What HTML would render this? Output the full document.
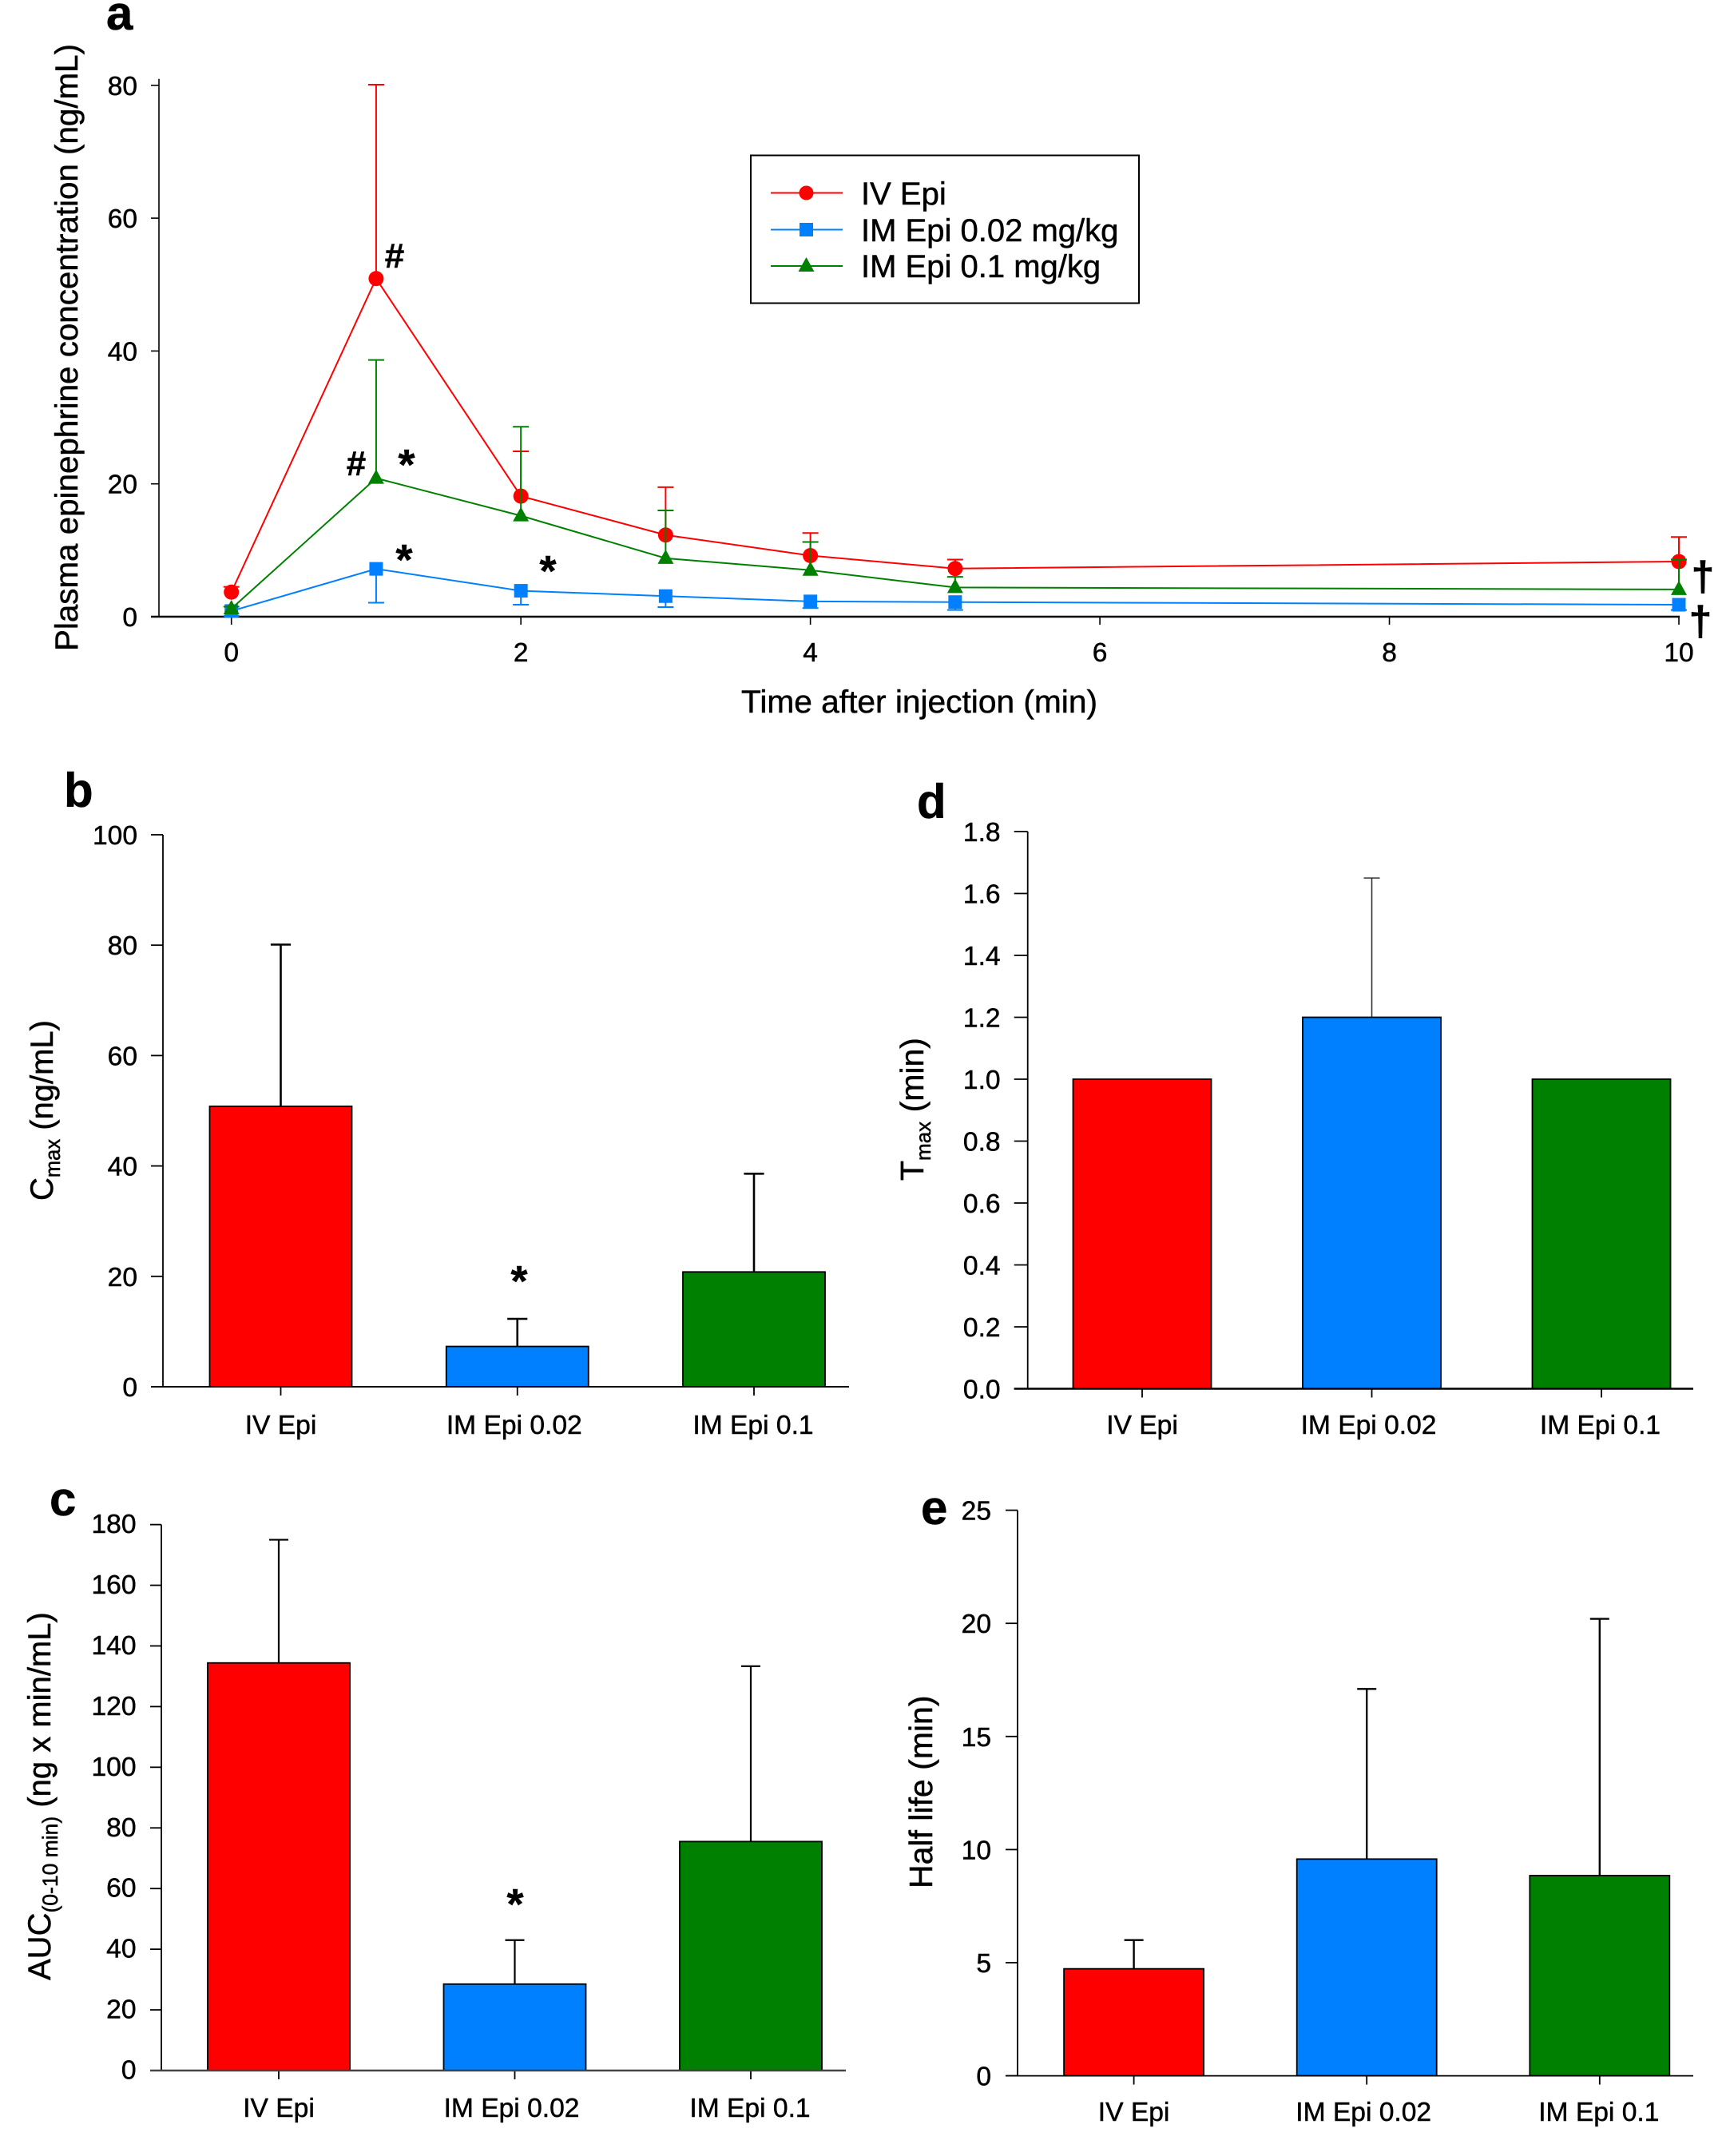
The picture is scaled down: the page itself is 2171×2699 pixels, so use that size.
<!DOCTYPE html>
<html lang="en">
<head>
<meta charset="utf-8">
<title>Plasma epinephrine pharmacokinetics</title>
<style>
  html,body{margin:0;padding:0;background:#fff;}
  svg{display:block;}
  text{font-family:"Liberation Sans",Arial,sans-serif;fill:#000;stroke:#000;stroke-width:0.5px;}
  .letter{font-weight:700;font-size:60px;}
  .note{font-weight:700;}
</style>
</head>
<body>
<svg id="figure" xmlns="http://www.w3.org/2000/svg" width="2171" height="2699" viewBox="0 0 2171 2699">
  <rect x="0" y="0" width="2171" height="2699" fill="#fff"/>

  <g id="panel-a"></g>
  <g id="panel-b"></g>
  <g id="panel-c"></g>
  <g id="panel-d"></g>
  <g id="panel-e"></g>

  <text class="letter" x="133" y="37">a</text>
  <text class="letter" x="80" y="1010">b</text>
  <text class="letter" x="1148" y="1024">d</text>
  <text class="letter" x="62" y="1897">c</text>
  <text class="letter" x="1153" y="1908">e</text>

  <text transform="translate(97,815) rotate(-90)" font-size="39.5" textLength="760" lengthAdjust="spacingAndGlyphs">Plasma epinephrine concentration (ng/mL)</text>
  <text x="928" y="892" font-size="39.5" textLength="446" lengthAdjust="spacingAndGlyphs">Time after injection (min)</text>

  <g>
    <rect x="940" y="194.5" width="486" height="185" fill="#fff" stroke="#000" stroke-width="2"/>
    <line x1="965" y1="241.5" x2="1055" y2="241.5" stroke="#ff0000" stroke-width="2"/>
    <circle cx="1009.5" cy="241.5" r="9" fill="#ff0000"/>
    <text x="1078" y="256" font-size="40">IV Epi</text>
    <line x1="965" y1="287.5" x2="1055" y2="287.5" stroke="#0080ff" stroke-width="2"/>
    <rect x="1001" y="279" width="17" height="17" fill="#0080ff"/>
    <text x="1078" y="302" font-size="40">IM Epi 0.02 mg/kg</text>
    <line x1="965" y1="333" x2="1055" y2="333" stroke="#008000" stroke-width="2"/>
    <polygon points="1009.5,322 1019.5,340 999.5,340" fill="#008000"/>
    <text x="1078" y="347" font-size="40">IM Epi 0.1 mg/kg</text>
  </g>

  <text class="note" x="494" y="335" font-size="44" text-anchor="middle">#</text>
  <text class="note" x="446" y="595" font-size="44" text-anchor="middle">#</text>
  <text class="note" x="509" y="600" font-size="54" text-anchor="middle">*</text>
  <text class="note" x="506" y="719" font-size="54" text-anchor="middle">*</text>
  <text class="note" x="686" y="733" font-size="54" text-anchor="middle">*</text>
  <text class="note" x="2132" y="739" font-size="52" text-anchor="middle">†</text>
  <text class="note" x="2129" y="795" font-size="52" text-anchor="middle">†</text>

  <text transform="translate(66,1503) rotate(-90)" font-size="40">C<tspan font-size="25.5" dy="9">max</tspan><tspan dy="-9"> (ng/mL)</tspan></text>
  <text class="note" x="650" y="1622" font-size="54" text-anchor="middle">*</text>

  <text transform="translate(63,2479) rotate(-90)" font-size="40">AUC<tspan font-size="26.5" dy="9">(0-10 min)</tspan><tspan dy="-9"> (ng x min/mL)</tspan></text>
  <text class="note" x="645" y="2402" font-size="54" text-anchor="middle">*</text>

  <text transform="translate(1156,1478) rotate(-90)" font-size="41">T<tspan font-size="26" dy="9">max</tspan><tspan dy="-9"> (min)</tspan></text>

  <text transform="translate(1167,2364) rotate(-90)" font-size="41">Half life (min)</text>
</svg>

<script>
// ---- Panel a: concentration time course ----
const timePoints = [0, 1, 2, 3, 4, 5, 10];
const ivMean = [3.7, 50.9, 18.15, 12.3, 9.2, 7.25, 8.3];
const ivErrorEnd = [4.5, 80.1, 24.9, 19.5, 12.6, 8.6, 12.0];
const im002Mean = [0.85, 7.2, 3.9, 3.1, 2.3, 2.2, 1.8];
const im002ErrorEnd = [0.1, 2.1, 1.8, 1.45, 1.3, 1.0, 1.0];
const im01Mean = [1.2, 20.85, 15.2, 8.8, 7.0, 4.4, 4.1];
const im01ErrorEnd = [1.5, 38.65, 28.6, 16.0, 11.25, 6.0, 8.6];
const panelAXTicks = [0, 2, 4, 6, 8, 10];
const panelAYTicks = [0, 20, 40, 60, 80];

// ---- Bar panels ----
const categories = ["IV Epi", "IM Epi 0.02", "IM Epi 0.1"];
const barColors = ["#ff0000", "#0080ff", "#008000"];

const cmaxValues = [50.8, 7.3, 20.8];
const cmaxErrorEnds = [80.1, 12.3, 38.6];
const cmaxTicks = ["0", "20", "40", "60", "80", "100"];

const aucValues = [134.4, 28.5, 75.5];
const aucErrorEnds = [175, 43, 133.3];
const aucTicks = ["0", "20", "40", "60", "80", "100", "120", "140", "160", "180"];

const tmaxValues = [1.0, 1.2, 1.0];
const tmaxErrorEnds = [null, 1.65, null];
const tmaxTicks = ["0.0", "0.2", "0.4", "0.6", "0.8", "1.0", "1.2", "1.4", "1.6", "1.8"];

const halfLifeValues = [4.73, 9.58, 8.85];
const halfLifeErrorEnds = [6.0, 17.1, 20.2];
const halfLifeTicks = ["0", "5", "10", "15", "20", "25"];

const NS = "http://www.w3.org/2000/svg";
function make(parent, tag, props) {
  const el = document.createElementNS(NS, tag);
  for (const k in props) el.setAttribute(k, props[k]);
  parent.appendChild(el);
  return el;
}
function linear(d0, d1, r0, r1) {
  return function (v) { return r0 + (v - d0) * (r1 - r0) / (d1 - d0); };
}

// ---------- panel a ----------
(function drawPanelA() {
  const g = document.getElementById("panel-a");
  const x = linear(0, 10, 289.7, 2102);
  const y = linear(0, 80, 772, 106.8);

  let el = make(g, "line", { x1: 199, y1: 98.7, x2: 199, y2: 772, stroke: "#000", "stroke-width": 1.6 });
  
  
  el = make(g, "line", { x1: 189, y1: y(0), x2: x(10) + 1, y2: y(0), stroke: "#000", "stroke-width": 2.6 });
  
  

  panelAYTicks.forEach(function (t) {
    const tick = make(g, "line", { x1: 189, y1: y(t), x2: 199, y2: y(t), stroke: "#000", "stroke-width": 1.6 });
    
    
    const label = make(g, "text", { x: 172, y: y(t) + 12, "font-size": 33.5, "text-anchor": "end" });
    label.textContent = t;
    
    
  });
  panelAXTicks.forEach(function (t) {
    const tick = make(g, "line", { x1: x(t), y1: y(0), x2: x(t), y2: y(0) + 10, stroke: "#000", "stroke-width": 1.6 });
    
    
    const label = make(g, "text", { x: x(t), y: 828, "font-size": 33.5, "text-anchor": "middle" });
    label.textContent = t;
    
    
  });

  function errorBars(ends, means, color, seriesGroup) {
    ends.forEach(function (end, i) {
      const stem = make(seriesGroup, "line", { x1: x(timePoints[i]), y1: y(means[i]), x2: x(timePoints[i]), y2: y(end), stroke: color, "stroke-width": 2 });
      
      
      const cap = make(seriesGroup, "line", { x1: x(timePoints[i]) - 10, y1: y(end), x2: x(timePoints[i]) + 10, y2: y(end), stroke: color, "stroke-width": 2 });
      
      
    });
  }
  function polyline(means, color, seriesGroup) {
    const pts = means.map(function (m, i) { return x(timePoints[i]) + "," + y(m); }).join(" ");
    const line = make(seriesGroup, "polyline", { points: pts, fill: "none", stroke: color, "stroke-width": 2 });
    
    
  }

  const ivGroup = make(g, "g", {});
  
  
  errorBars(ivErrorEnd, ivMean, "#ff0000", ivGroup);
  polyline(ivMean, "#ff0000", ivGroup);
  ivMean.forEach(function (m, i) {
    const dot = make(ivGroup, "circle", { cx: x(timePoints[i]), cy: y(m), r: 9.5, fill: "#ff0000" });
    
    
  });

  const im002Group = make(g, "g", {});
  
  
  errorBars(im002ErrorEnd, im002Mean, "#0080ff", im002Group);
  polyline(im002Mean, "#0080ff", im002Group);
  im002Mean.forEach(function (m, i) {
    const sq = make(im002Group, "rect", { x: x(timePoints[i]) - 8.5, y: y(m) - 8.5, width: 17, height: 17, fill: "#0080ff" });
    
    
  });

  const im01Group = make(g, "g", {});
  
  
  errorBars(im01ErrorEnd, im01Mean, "#008000", im01Group);
  polyline(im01Mean, "#008000", im01Group);
  im01Mean.forEach(function (m, i) {
    const px = x(timePoints[i]), py = y(m);
    const tri = make(im01Group, "polygon", { points: px + "," + (py - 11) + " " + (px + 10) + "," + (py + 7) + " " + (px - 10) + "," + (py + 7), fill: "#008000" });
    
    
  });
})();

// ---------- bar panels ----------
function drawBarPanel(id, values, errorEnds, ticks, o) {
  const g = document.getElementById(id);
  const y = linear(Number(ticks[0]), Number(ticks[ticks.length - 1]), o.y0, o.yTop);
  const cx = function (i) { return o.c0 + i * o.step; };

  ticks.forEach(function (t) {
    const v = Number(t);
    const tick = make(g, "line", { x1: o.axisX - o.tickLen, y1: y(v), x2: o.axisX, y2: y(v), stroke: "#000", "stroke-width": 1.8 });
    
    
    const label = make(g, "text", { x: o.labelRight, y: y(v) + o.tickLabelDrop, "font-size": 33.6, "text-anchor": "end" });
    label.textContent = t;
    
    
  });

  values.forEach(function (v, i) {
    if (errorEnds[i] !== null) {
      const stem = make(g, "line", { x1: cx(i), y1: y(v), x2: cx(i), y2: y(errorEnds[i]), stroke: o.errColor, "stroke-width": o.errWidth });
      
      
      const cap = make(g, "line", { x1: cx(i) - o.capHalf, y1: y(errorEnds[i]), x2: cx(i) + o.capHalf, y2: y(errorEnds[i]), stroke: o.errColor, "stroke-width": o.errWidth });
      
      
    }
    const bar = make(g, "rect", { x: cx(i) - o.barW / 2, y: y(v), width: o.barW, height: y(0) - y(v), fill: barColors[i], stroke: "#000", "stroke-width": 1.8 });
    
    
    const tick = make(g, "line", { x1: cx(i), y1: o.y0, x2: cx(i), y2: o.y0 + 11, stroke: "#000", "stroke-width": 1.8 });
    
    
    const label = make(g, "text", { x: cx(i) + (i === 0 ? 0 : o.labelShift[i - 1]), y: o.catBaseline, "font-size": 33.6, "text-anchor": "middle" });
    label.textContent = categories[i];
    
    
  });

  const yAxis = make(g, "line", { x1: o.axisX, y1: o.yTop, x2: o.axisX, y2: o.y0, stroke: "#000", "stroke-width": 1.8 });
  
  
  const xAxis = make(g, "line", { x1: o.axisX - o.tickLen, y1: o.y0, x2: o.xEnd, y2: o.y0, stroke: o.xAxisColor, "stroke-width": o.xAxisWidth });
  
  
}

drawBarPanel("panel-b", cmaxValues, cmaxErrorEnds, cmaxTicks, {
  y0: 1736, yTop: 1045, axisX: 204, tickLen: 15, xEnd: 1063, labelRight: 172, tickLabelDrop: 12,
  c0: 351.5, step: 296.25, barW: 178, capHalf: 12.6, catBaseline: 1795, labelShift: [-4, -1],
  errColor: "#000", errWidth: 2.6, xAxisColor: "#000", xAxisWidth: 2
});
drawBarPanel("panel-c", aucValues, aucErrorEnds, aucTicks, {
  y0: 2592, yTop: 1908.6, axisX: 202, tickLen: 14, xEnd: 1059, labelRight: 170.5, tickLabelDrop: 10.5,
  c0: 349, step: 295.5, barW: 178, capHalf: 12, catBaseline: 2650, labelShift: [-4, -1],
  errColor: "#000", errWidth: 2.2, xAxisColor: "#444", xAxisWidth: 2.4
});
drawBarPanel("panel-d", tmaxValues, tmaxErrorEnds, tmaxTicks, {
  y0: 1738.5, yTop: 1041, axisX: 1286.7, tickLen: 17, xEnd: 2120, labelRight: 1252.6, tickLabelDrop: 12,
  c0: 1430, step: 287.5, barW: 173, capHalf: 10, catBaseline: 1795, labelShift: [-4, -1.5],
  errColor: "#333", errWidth: 1.6, xAxisColor: "#000", xAxisWidth: 2.4
});
drawBarPanel("panel-e", halfLifeValues, halfLifeErrorEnds, halfLifeTicks, {
  y0: 2598.6, yTop: 1890.6, axisX: 1274, tickLen: 15, xEnd: 2120, labelRight: 1241, tickLabelDrop: 12,
  c0: 1419.6, step: 291.6, barW: 175, capHalf: 12, catBaseline: 2655, labelShift: [-4, -1],
  errColor: "#000", errWidth: 2.4, xAxisColor: "#000", xAxisWidth: 1.8
});
</script>
</body>
</html>
